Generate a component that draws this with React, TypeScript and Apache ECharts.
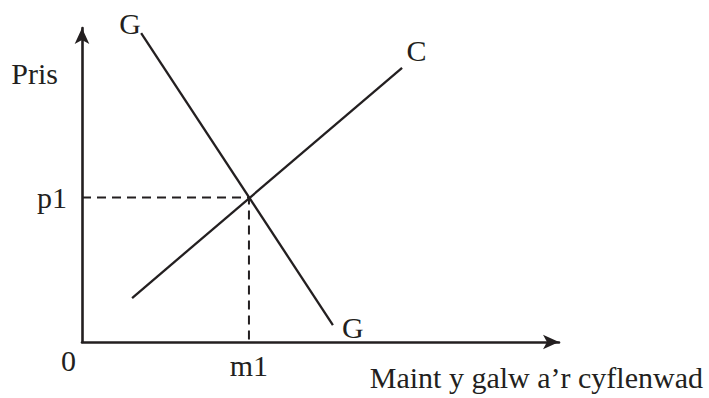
import React, { useEffect, useRef } from "react";
import * as echarts from "echarts";

// ---- data (value units on both axes: 0..100) ----
const demandPoints: [number, number][] = [
  [12.4, 98.4],
  [52.6, 5.4],
];
const supplyPoints: [number, number][] = [
  [10.5, 14.0],
  [67.1, 87.3],
];
const equilibrium: [number, number] = [35, 46];
const curveNames = ["G", "C"];
const xTickLabels = ["0", "m1"];
const yTickLabels = ["p1"];
const xTitle = "Maint y galw a\u2019r cyflenwad";
const yTitle = "Pris";

const INK = "#231f20";
const FONT = "'Liberation Serif', 'Times New Roman', serif";
const FS = 30;

export default function App() {
  const ref = useRef<HTMLDivElement>(null);

  useEffect(() => {
    if (!ref.current) return;
    const chart = echarts.init(ref.current, null, { renderer: "svg" });
    const [eqX, eqY] = equilibrium;

    const lineLabel = (text: string, offset: [number, number]) => ({
      show: true,
      formatter: text,
      position: "inside",
      offset,
      fontFamily: FONT,
      fontSize: FS,
      color: INK,
    });

    const option: any = {
      animation: false,
      backgroundColor: "#ffffff",
      grid: {
        left: 82,
        right: 150,
        top: 28,
        bottom: 56,
        containLabel: false,
        outerBoundsMode: "none",
      },
      xAxis: {
        type: "value",
        min: 0,
        max: 100,
        axisLine: {
          show: true,
          symbol: ["none", "arrow"],
          symbolSize: [11, 16],
          lineStyle: { color: INK, width: 2.6 },
        },
        axisTick: { show: false },
        splitLine: { show: false },
        axisLabel: {
          customValues: [0, eqX],
          formatter: (v: number) =>
            v === 0 ? `{o|${xTickLabels[0]}}` : `{m|${xTickLabels[1]}}`,
          margin: 8,
          fontFamily: FONT,
          fontSize: FS,
          color: INK,
          rich: {
            o: {
              fontFamily: FONT,
              fontSize: FS,
              color: INK,
              lineHeight: 20,
              padding: [0, 27, 0, 0],
            },
            m: {
              fontFamily: FONT,
              fontSize: FS,
              color: INK,
              lineHeight: 30,
            },
          },
        },
        name: xTitle,
        nameLocation: "end",
        nameGap: 144,
        nameMoveOverlap: false,
        nameTextStyle: {
          fontFamily: FONT,
          fontSize: FS,
          color: INK,
          align: "right",
          verticalAlign: "top",
          lineHeight: 30,
          padding: [20, 0, 0, 0],
        },
      },
      yAxis: {
        type: "value",
        min: 0,
        max: 100,
        axisLine: {
          show: true,
          symbol: ["none", "arrow"],
          symbolSize: [11, 16],
          lineStyle: { color: INK, width: 2.6 },
        },
        axisTick: { show: false },
        splitLine: { show: false },
        axisLabel: {
          customValues: [eqY],
          formatter: () => yTickLabels[0],
          margin: 15,
          padding: [7, 0, 0, 0],
          fontFamily: FONT,
          fontSize: FS,
          color: INK,
        },
        name: yTitle,
        nameLocation: "end",
        nameGap: -45,
        nameMoveOverlap: false,
        nameTextStyle: {
          fontFamily: FONT,
          fontSize: FS,
          color: INK,
          align: "right",
          verticalAlign: "middle",
          padding: [0, 24, 0, 0],
        },
      },
      series: [
        {
          type: "line",
          name: "guides",
          silent: true,
          symbol: "none",
          data: [
            [0, eqY],
            [eqX, eqY],
            [eqX, 0],
          ],
          lineStyle: { color: INK, width: 2, type: [9, 6] },
          z: 1,
        },
        {
          type: "line",
          name: curveNames[0],
          silent: true,
          symbol: "circle",
          symbolSize: 0,
          data: [
            { value: demandPoints[0], label: lineLabel(curveNames[0], [-11, -10]) },
            { value: demandPoints[1], label: lineLabel(curveNames[0], [20, 2]) },
          ],
          lineStyle: { color: INK, width: 2.3 },
          itemStyle: { color: INK },
          z: 2,
        },
        {
          type: "line",
          name: curveNames[1],
          silent: true,
          symbol: "circle",
          symbolSize: 0,
          data: [
            { value: supplyPoints[0] },
            { value: supplyPoints[1], label: lineLabel(curveNames[1], [14.4, -17]) },
          ],
          lineStyle: { color: INK, width: 2.3 },
          itemStyle: { color: INK },
          z: 2,
        },
      ],
    };

    chart.setOption(option);
    return () => chart.dispose();
  }, []);

  return (
    <div
      ref={ref}
      style={{
        position: "fixed",
        left: 0,
        top: 0,
        width: 709,
        height: 398,
        background: "#ffffff",
      }}
    />
  );
}
